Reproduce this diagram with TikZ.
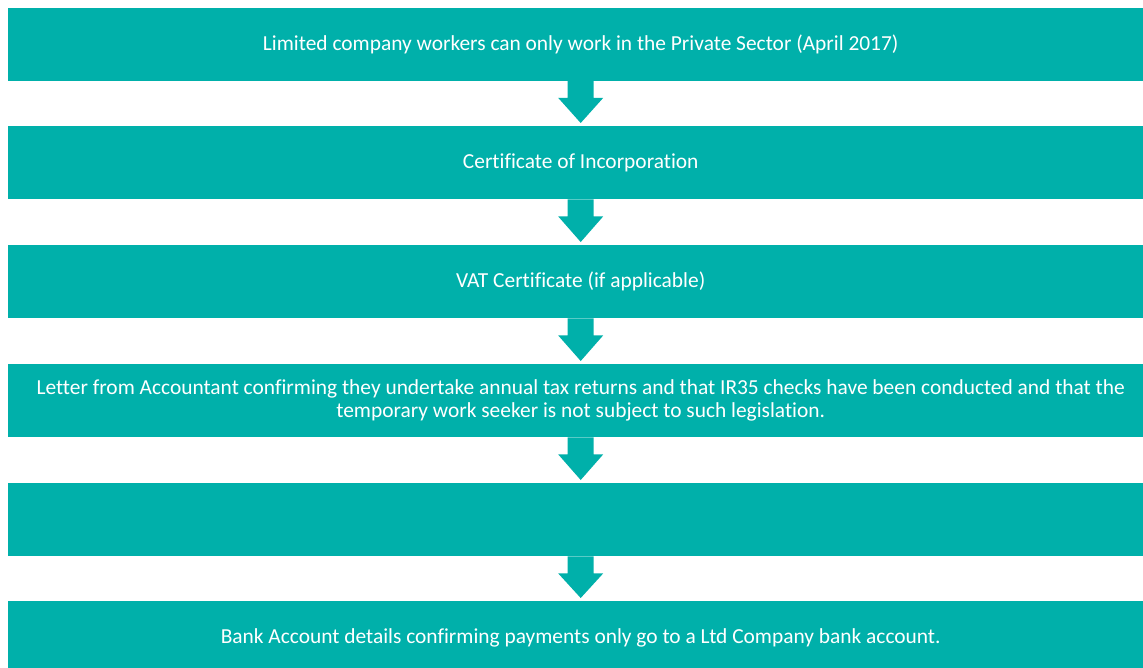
\documentclass[tikz,border=0pt]{standalone}
\usepackage{fontspec}
\setmainfont[Ligatures=NoCommon]{Carlito}
\usetikzlibrary{calc}
\definecolor{tealbox}{RGB}{0,176,170}
\begin{document}
\begin{tikzpicture}[x=1pt,y=-1pt,
  stepbox/.style={fill=tealbox,draw=none,anchor=north west,minimum width=1145pt,minimum height=73pt,
    inner sep=0pt,text=white,align=center,font=\fontsize{21.4}{23}\selectfont},
  arr/.style={fill=tealbox,draw=none}]
\useasboundingbox (0,0) rectangle (1143,668);
\clip (0,0) rectangle (1143,668);
\fill[white] (0,0) rectangle (1143,668);
\node[stepbox] (b1) at (8,7.5) {Limited company workers can only work in the Private Sector (April 2017)};
\node[stepbox] (b2) at (8,126) {Certificate of Incorporation};
\node[stepbox] (b3) at (8,245) {VAT Certificate (if applicable)};
\node[stepbox] (b4) at (8,364) {Letter from Accountant confirming they undertake annual tax returns and that IR35 checks have been conducted and that the\\temporary work seeker is not subject to such legislation.};
\node[stepbox] (b5) at (8,483) {};
\node[stepbox] (b6) at (8,601) {Bank Account details confirming payments only go to a Ltd Company bank account.};
\foreach \a/\b in {b1/b2,b2/b3,b3/b4,b4/b5,b5/b6}{
  \fill[arr] ($(\a.south)+(-13,0)$) -- ++(26,0) -- ++(0,17) -- ++(9.5,0)
    -- ($(\b.north)+(0,-3)$) -- ($(\a.south)+(-22.5,17)$) -- ++(9.5,0) -- cycle;
}
\end{tikzpicture}
\end{document}
